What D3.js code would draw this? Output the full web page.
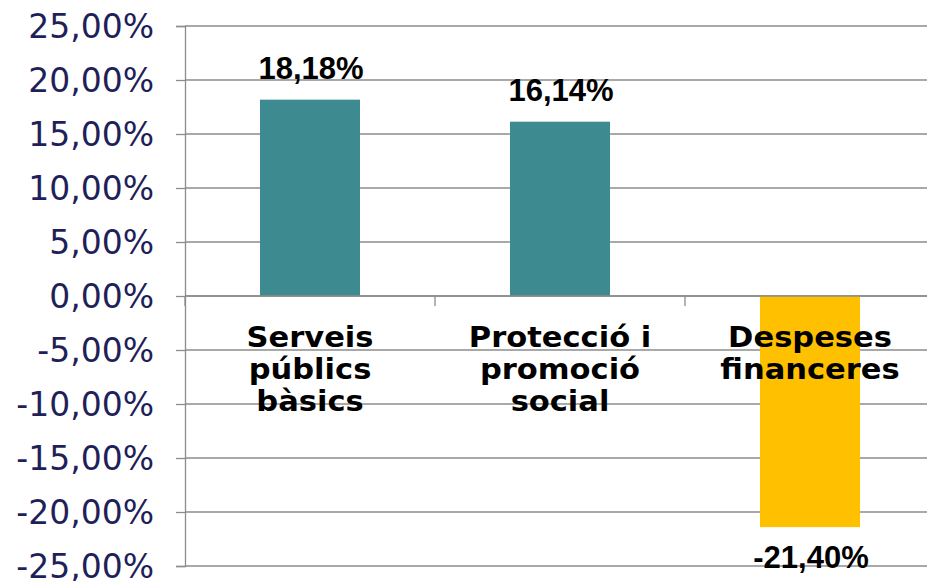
<!DOCTYPE html>
<html><head><meta charset="utf-8">
<script src="https://cdn.jsdelivr.net/npm/d3@7"></script>
<style>body{margin:0;background:#fff}svg{display:block}</style>
</head><body>
<svg id="c" width="927" height="581"></svg>
<script>
const categories = [["Serveis","públics","bàsics"],["Protecció i","promoció","social"],["Despeses","financeres"]];
const values = [18.18, 16.14, -21.40];
const valueLabels = ["18,18%","16,14%","-21,40%"];
const barColors = ["#3d8b90","#3d8b90","#ffc000"];
const yTicks = [25,20,15,10,5,0,-5,-10,-15,-20,-25];
const fmt = v => v.toFixed(2).replace(".", ",") + "%";

const svg = d3.select("#c");
const x0 = 185, yTop = 26, yBot = 566;
const y = d3.scaleLinear().domain([25,-25]).range([yTop,yBot]);
const x = d3.scaleBand().domain(d3.range(categories.length)).range([x0, x0+750]).paddingInner(0).paddingOuter(0);
const barW = 100;
const grey = "#8c8c8c";

// gridlines
svg.append("g").selectAll("line").data(yTicks).join("line")
  .attr("x1", x0).attr("x2", 927).attr("y1", d=>y(d)).attr("y2", d=>y(d))
  .attr("stroke", grey).attr("stroke-width", 1.3);

// bars
svg.append("g").selectAll("rect").data(values).join("rect")
  .attr("x", (d,i)=>x(i)+x.bandwidth()/2-barW/2)
  .attr("width", barW)
  .attr("y", d=>y(Math.max(0,d)))
  .attr("height", d=>Math.abs(y(d)-y(0)))
  .attr("fill", (d,i)=>barColors[i]);

// y axis
const yAxis = d3.axisLeft(y).tickValues(yTicks).tickFormat(fmt).tickSize(9).tickPadding(22);
const ga = svg.append("g").attr("transform", `translate(${x0},0)`).call(yAxis);
ga.select(".domain").attr("stroke", grey).attr("stroke-width", 1.3);
ga.selectAll(".tick line").attr("stroke", grey).attr("stroke-width", 1.3);
ga.selectAll(".tick text").attr("fill", "#1f1f5a").attr("font-family", "DejaVu Sans, Verdana, sans-serif").attr("font-size", 33).attr("dy", "0.36em");

// zero axis line & category ticks
svg.append("line").attr("x1", x0).attr("x2", 927).attr("y1", y(0)).attr("y2", y(0)).attr("stroke", grey).attr("stroke-width", 1.3);
svg.append("g").selectAll("line").data(d3.range(categories.length+1)).join("line")
  .attr("x1", d=>x0+d*x.bandwidth()).attr("x2", d=>x0+d*x.bandwidth())
  .attr("y1", y(0)).attr("y2", y(0)+10).attr("stroke", grey).attr("stroke-width", 1.3);

// category labels (wide, short letterforms like the reference)
const cl = svg.append("g").selectAll("text").data(categories).join("text")
  .attr("transform", (d,i)=>`translate(${x(i)+x.bandwidth()/2},0) scale(1.11,1)`)
  .attr("text-anchor","middle")
  .attr("font-family","DejaVu Sans, Verdana, sans-serif").attr("font-weight","bold").attr("font-size",27.5)
  .attr("fill","#000");
cl.each(function(lines,i){
  const t = d3.select(this);
  lines.forEach((l,j)=>t.append("tspan").attr("x", 0).attr("y", 347 + j*32).text(l));
});

// value labels
svg.append("g").selectAll("text").data(values).join("text")
  .attr("x", (d,i)=>x(i)+x.bandwidth()/2+1)
  .attr("y", d=> d>=0 ? y(d)-21 : y(d)+41)
  .attr("text-anchor","middle")
  .attr("font-family","Liberation Sans, Arial, sans-serif").attr("font-weight","bold").attr("font-size",31)
  .attr("fill","#000")
  .text((d,i)=>valueLabels[i]);
</script>
</body></html>
